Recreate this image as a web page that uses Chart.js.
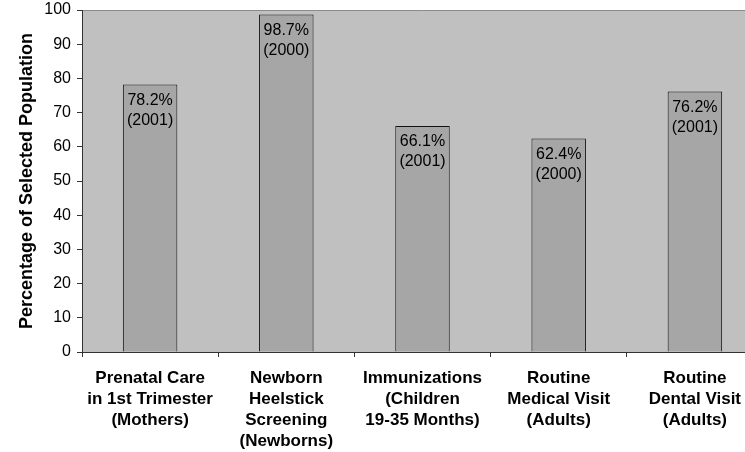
<!DOCTYPE html>
<html>
<head>
<meta charset="utf-8">
<script src="https://cdn.jsdelivr.net/npm/chart.js@4/dist/chart.umd.min.js"></script>
<style>
  html, body { margin: 0; padding: 0; background: #fff; overflow: hidden; }
  #wrap { width: 745px; height: 452px; overflow: hidden; }
</style>
</head>
<body>
<div id="wrap"><canvas id="care" width="770" height="452"></canvas></div>
<script>
const categories = [
  ["Prenatal Care", "in 1st Trimester", "(Mothers)"],
  ["Newborn", "Heelstick", "Screening", "(Newborns)"],
  ["Immunizations", "(Children", "19-35 Months)"],
  ["Routine", "Medical Visit", "(Adults)"],
  ["Routine", "Dental Visit", "(Adults)"]
];
const percentages = [78.2, 98.7, 66.1, 62.4, 76.2];
const years = ["2001", "2000", "2001", "2000", "2001"];
const yTicks = [0, 10, 20, 30, 40, 50, 60, 70, 80, 90, 100];

const FONT = "'Liberation Sans', Arial, sans-serif";

// grey plot area with a thin top edge
const plotBackground = {
  id: "plotBackground",
  beforeDraw(chart) {
    const { ctx, chartArea: a } = chart;
    ctx.save();
    ctx.fillStyle = "#c0c0c0";
    ctx.fillRect(a.left, a.top, a.right - a.left, a.bottom - a.top);
    ctx.strokeStyle = "#8a8a8a";
    ctx.lineWidth = 1;
    ctx.beginPath();
    ctx.moveTo(a.left, a.top + 0.5);
    ctx.lineTo(a.right, a.top + 0.5);
    ctx.stroke();
    ctx.restore();
  }
};

// value and year written inside the top of each bar
const barLabels = {
  id: "barLabels",
  afterDatasetsDraw(chart) {
    const { ctx } = chart;
    const meta = chart.getDatasetMeta(0);
    ctx.save();
    ctx.font = "16px " + FONT;
    ctx.fillStyle = "#000";
    ctx.textAlign = "center";
    ctx.textBaseline = "middle";
    meta.data.forEach((bar, i) => {
      ctx.fillText(percentages[i].toFixed(1) + "%", bar.x, bar.y + 16);
      ctx.fillText("(" + years[i] + ")", bar.x, bar.y + 36);
    });
    ctx.restore();
  }
};

new Chart(document.getElementById("care"), {
  type: "bar",
  data: {
    labels: categories,
    datasets: [{
      data: percentages,
      backgroundColor: "#a6a6a6",
      borderColor: "#111",
      borderWidth: 1,
      borderSkipped: "bottom",
      categoryPercentage: 1,
      barPercentage: 0.4
    }]
  },
  options: {
    responsive: false,
    animation: false,
    layout: { padding: { top: 10, right: 7, left: 0, bottom: 0 } },
    plugins: { legend: { display: false }, tooltip: { enabled: false } },
    scales: {
      x: {
        offset: true,
        grid: {
          offset: true,
          drawOnChartArea: false,
          tickLength: 5,
          color: "#333"
        },
        border: { color: "#333", width: 1 },
        ticks: {
          color: "#000",
          padding: 11,
          maxRotation: 0,
          autoSkip: false,
          font: { family: FONT, size: 17, weight: "bold", lineHeight: 1.24 }
        },
        afterFit(scale) { scale.height = 100; }
      },
      y: {
        min: 0,
        max: 100,
        afterBuildTicks(scale) { scale.ticks = yTicks.map(v => ({ value: v })); },
        grid: {
          drawOnChartArea: false,
          tickLength: 5,
          color: "#333"
        },
        border: { color: "#333", width: 1 },
        ticks: {
          color: "#000",
          padding: 6,
          font: { family: FONT, size: 16 }
        },
        title: {
          display: true,
          text: "Percentage of Selected Population",
          color: "#000",
          padding: { top: 16, bottom: 0 },
          font: { family: FONT, size: 18, weight: "bold" }
        },
        afterFit(scale) {
          scale.width = 82;
          scale.paddingTop = 0;
          scale.paddingBottom = 0;
        }
      }
    }
  },
  plugins: [plotBackground, barLabels]
});
</script>
</body>
</html>
